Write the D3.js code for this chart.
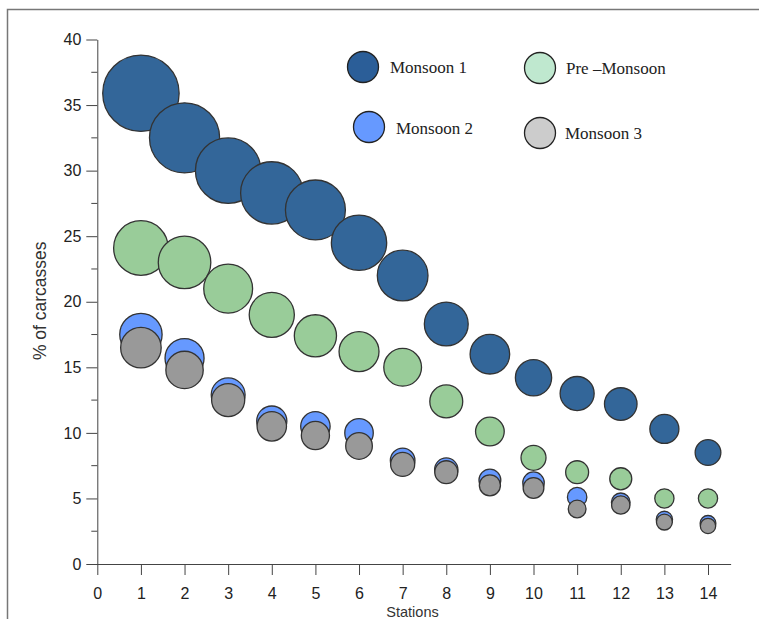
<!DOCTYPE html>
<html>
<head>
<meta charset="utf-8">
<script src="https://cdn.jsdelivr.net/npm/d3@7"></script>
<style>
  html, body { margin: 0; padding: 0; background: #fff; }
  svg { display: block; }
</style>
</head>
<body>
<svg id="chart" width="759" height="619"></svg>
<script>
// Stations along the transect
const stations = [1, 2, 3, 4, 5, 6, 7, 8, 9, 10, 11, 12, 13, 14];

// % of carcasses per station, one array per season
const monsoon1   = [35.9, 32.5, 30.0, 28.3, 27.0, 24.5, 22.0, 18.3, 16.0, 14.2, 13.0, 12.2, 10.3, 8.5];
const preMonsoon = [24.1, 23.0, 21.0, 19.0, 17.4, 16.2, 15.0, 12.4, 10.1, 8.1, 7.0, 6.5, 5.0, 5.0];
const monsoon2   = [17.5, 15.7, 12.9, 10.9, 10.5, 10.0, 7.9, 7.2, 6.4, 6.2, 5.1, 4.7, 3.4, 3.1];
const monsoon3   = [16.5, 14.8, 12.5, 10.5, 9.8, 9.0, 7.6, 7.0, 6.0, 5.8, 4.2, 4.5, 3.2, 2.9];

// Axis ticks
const xTicks = d3.range(0, 15);
const yMajorTicks = d3.range(0, 41, 5);
const yMinorTicks = d3.range(2.5, 40, 5);

// Series drawn back to front
const series = [
  { name: "Monsoon 1",    values: monsoon1,   fill: "#336699", legendFill: "#2b5e98" },
  { name: "Pre \u2013Monsoon", values: preMonsoon, fill: "#99cc99", legendFill: "#bfe8cf" },
  { name: "Monsoon 2",    values: monsoon2,   fill: "#6699ff", legendFill: "#6699ff" },
  { name: "Monsoon 3",    values: monsoon3,   fill: "#999999", legendFill: "#cccccc" }
];

const svg = d3.select("#chart");

// Figure frame
svg.append("rect")
  .attr("x", 7.5).attr("y", 9.5)
  .attr("width", 800).attr("height", 700)
  .attr("fill", "none")
  .attr("stroke", "#777")
  .attr("stroke-width", 1.5);

const x = d3.scaleLinear().domain([0, 14]).range([97.3, 708]);
const y = d3.scaleLinear().domain([0, 40]).range([564, 39.5]);
// bubble radius grows with the percentage
const r = d3.scaleLinear().domain([0, 40]).range([5, 42]);

const axisColor = "#444";
const tickFont = "Liberation Sans, Arial, sans-serif";

// Y axis: major ticks with labels, minor ticks between them
const yAxis = svg.append("g").attr("transform", `translate(${x(0)},0)`);
yAxis.call(d3.axisLeft(y).tickValues(yMajorTicks).tickSize(11).tickPadding(5).tickSizeOuter(0));
yAxis.append("g").selectAll("line")
  .data(yMinorTicks)
  .join("line")
  .attr("x1", -6).attr("x2", 0)
  .attr("y1", d => y(d)).attr("y2", d => y(d));
yAxis.selectAll("line").attr("stroke", axisColor);
yAxis.select(".domain").attr("stroke", axisColor);
yAxis.selectAll("text")
  .attr("font-family", tickFont)
  .attr("font-size", 16)
  .attr("fill", "#222");

// X axis
const xAxis = svg.append("g").attr("transform", `translate(0,${y(0)})`);
xAxis.call(d3.axisBottom(x).tickValues(xTicks).tickSize(11).tickPadding(13).tickSizeOuter(0));
xAxis.select(".domain")
  .attr("d", `M${x(0) - 10},0.5H${x(14.53)}`)
  .attr("stroke", axisColor);
xAxis.selectAll("line").attr("stroke", axisColor);
xAxis.selectAll("text")
  .attr("font-family", tickFont)
  .attr("font-size", 16)
  .attr("fill", "#222");

// Axis titles
svg.append("text")
  .attr("transform", `translate(46,${y(20) - 1}) rotate(-90)`)
  .attr("text-anchor", "middle")
  .attr("font-family", tickFont)
  .attr("font-size", 17.5)
  .attr("fill", "#333")
  .text("% of carcasses");

svg.append("text")
  .attr("x", 412.5)
  .attr("y", 617)
  .attr("text-anchor", "middle")
  .attr("font-family", tickFont)
  .attr("font-size", 14.5)
  .attr("fill", "#333")
  .text("Stations");

// Bubbles
const plot = svg.append("g");
series.forEach(s => {
  plot.append("g")
    .selectAll("circle")
    .data(stations.map((st, i) => ({ st, v: s.values[i] })))
    .join("circle")
    .attr("cx", d => x(d.st))
    .attr("cy", d => y(d.v))
    .attr("r", d => r(d.v))
    .attr("fill", s.fill)
    .attr("stroke", "#333")
    .attr("stroke-width", 1.3);
});

// Legend, two columns
const legendPos = [
  { cx: 363, cy: 67, tx: 390, ty: 73 },
  { cx: 540, cy: 68, tx: 566, ty: 74 },
  { cx: 369, cy: 127, tx: 396, ty: 134 },
  { cx: 540, cy: 133, tx: 565, ty: 139 }
];
const legend = svg.append("g");
series.forEach((s, i) => {
  const p = legendPos[i];
  legend.append("circle")
    .attr("cx", p.cx).attr("cy", p.cy).attr("r", 15.5)
    .attr("fill", s.legendFill)
    .attr("stroke", "#222")
    .attr("stroke-width", 1.3);
  legend.append("text")
    .attr("x", p.tx).attr("y", p.ty)
    .attr("font-family", "Liberation Serif, Times New Roman, serif")
    .attr("font-size", 17)
    .attr("fill", "#222")
    .text(s.name);
});
</script>
</body>
</html>
